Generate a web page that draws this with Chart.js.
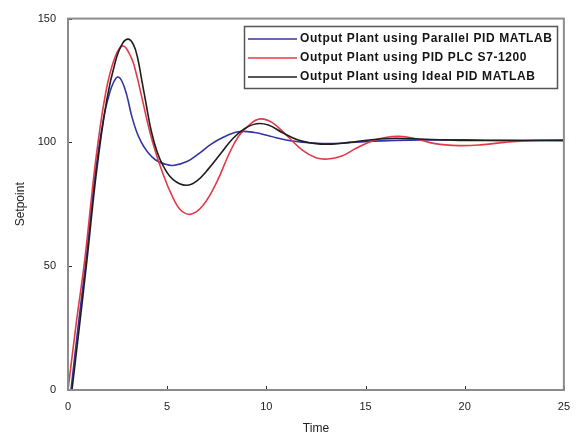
<!DOCTYPE html>
<html>
<head>
<meta charset="utf-8">
<script src="https://cdn.jsdelivr.net/npm/chart.js@4.4.1/dist/chart.umd.min.js"></script>
<style>
  html, body { margin: 0; padding: 0; background: #fff; }
</style>
</head>
<body>
<canvas id="myChart" width="580" height="436"></canvas>
<script>
const seriesLabels = [
  'Output Plant using Parallel PID MATLAB',
  'Output Plant using PID PLC S7-1200',
  'Output Plant using Ideal PID MATLAB'
];
const seriesColors = ['#3434a4', '#e23a48', '#1e1e1e'];

// Parallel PID (MATLAB)
const parallelTime = [0.15, 0.5, 0.9, 1.4, 1.8, 2.1, 2.3, 2.5, 2.7, 2.95, 3.2, 3.45, 3.7, 3.95, 4.4, 4.9, 5.3, 6.0, 6.6, 7.2, 7.8, 8.6, 9.4, 10.2, 11, 12, 13, 14, 15, 16.5, 18, 20, 22, 25];
const parallelValues = [0, 25, 52, 89, 110, 120, 124.3, 126.4, 125, 119.5, 111, 104.5, 100, 96.8, 93, 91.2, 90.7, 92.3, 95.5, 99.2, 102, 104.3, 104, 102.5, 101, 100, 99.5, 99.8, 100.3, 100.8, 101, 101, 100.8, 100.8];

// PID PLC S7-1200
const plcTime = [0, 0.4, 0.85, 1.4, 1.9, 2.35, 2.77, 3.2, 3.45, 3.7, 4.2, 4.8, 5.3, 5.7, 6.2, 6.8, 7.5, 8.1, 8.6, 9.2, 9.7, 10.3, 11, 11.8, 12.5, 13.1, 13.8, 14.5, 15.3, 16, 16.7, 17.5, 18.5, 19.7, 20.8, 22, 23.5, 25];
const plcValues = [0, 26, 53, 93, 120, 134, 139, 134, 127.5, 119, 102, 87, 77.5, 72.5, 71, 74.5, 84, 95, 102.5, 107.5, 109.5, 108, 103, 97, 93.8, 93.3, 94.5, 97.5, 100.5, 102, 102.5, 101.5, 99.5, 98.7, 99, 100, 100.8, 100.8];

// Ideal PID (MATLAB)
const idealTime = [0.2, 0.55, 0.95, 1.45, 1.95, 2.4, 2.75, 3.05, 3.3, 3.5, 3.7, 3.95, 4.2, 4.5, 4.8, 5.3, 5.96, 6.5, 7.1, 7.7, 8.3, 8.9, 9.5, 10.1, 10.8, 11.6, 12.5, 13.3, 14.2, 15.2, 16.5, 18, 20, 25];
const idealValues = [0, 24, 52, 89, 117, 133, 140, 141.7, 139.5, 134.5, 126, 115, 104.5, 96, 90.5, 85, 82.7, 84.5, 89.5, 95.5, 101.5, 105.5, 107.5, 107, 104, 101, 99.5, 99.3, 100, 101, 101.7, 101.3, 100.8, 100.8];

const xTicks = [0, 5, 10, 15, 20, 25];
const yTicks = [0, 50, 100, 150];

const toPoints = (times, values) => times.map((t, i) => ({ x: t, y: values[i] }));

const frameAndLegend = {
  id: 'frameAndLegend',
  afterDatasetsDraw(chart) {
    const { ctx, chartArea: a, scales: { x, y } } = chart;
    ctx.save();

    // MATLAB style ticks pointing inward
    ctx.strokeStyle = '#333';
    ctx.lineWidth = 1;
    ctx.beginPath();
    xTicks.forEach((v) => {
      const px = Math.round(x.getPixelForValue(v)) + 0.5;
      ctx.moveTo(px, a.bottom);
      ctx.lineTo(px, a.bottom - 4);
    });
    yTicks.forEach((v) => {
      const py = Math.round(y.getPixelForValue(v)) + 0.5;
      ctx.moveTo(a.left, py);
      ctx.lineTo(a.left + 4, py);
    });
    ctx.stroke();

    // box around the axes
    ctx.strokeStyle = '#8c8c8c';
    ctx.lineWidth = 2;
    ctx.strokeRect(a.left, a.top, a.right - a.left, a.bottom - a.top);

    // legend box
    const lx = 244.5, ly = 26.5, lw = 313, lh = 62;
    ctx.fillStyle = '#fff';
    ctx.fillRect(lx, ly, lw, lh);
    ctx.strokeStyle = '#555';
    ctx.lineWidth = 1.5;
    ctx.strokeRect(lx, ly, lw, lh);

    ctx.font = 'bold 12px "Liberation Sans", Arial, sans-serif';
    ctx.letterSpacing = '0.6px';
    ctx.textBaseline = 'middle';
    chart.data.datasets.forEach((ds, i) => {
      const rowY = 39 + i * 19;
      ctx.strokeStyle = ds.borderColor;
      ctx.lineWidth = 1.5;
      ctx.beginPath();
      ctx.moveTo(248, rowY);
      ctx.lineTo(297, rowY);
      ctx.stroke();
      ctx.fillStyle = '#151515';
      ctx.fillText(ds.label, 300, rowY);
    });

    ctx.restore();
  }
};

const ctx = document.getElementById('myChart');
const chart = new Chart(ctx, {
  type: 'line',
  data: {
    datasets: [
      {
        label: seriesLabels[0],
        data: toPoints(parallelTime, parallelValues),
        borderColor: seriesColors[0],
        order: 2
      },
      {
        label: seriesLabels[1],
        data: toPoints(plcTime, plcValues),
        borderColor: seriesColors[1],
        order: 1
      },
      {
        label: seriesLabels[2],
        data: toPoints(idealTime, idealValues),
        borderColor: seriesColors[2],
        order: 0
      }
    ]
  },
  options: {
    responsive: false,
    animation: false,
    layout: { padding: { left: 0, right: 14, top: 15, bottom: 0 } },
    elements: {
      point: { radius: 0 },
      line: { borderWidth: 1.6, tension: 0.4, fill: false }
    },
    plugins: {
      legend: { display: false },
      tooltip: { enabled: false }
    },
    scales: {
      x: {
        type: 'linear',
        min: 0,
        max: 25,
        afterBuildTicks: (axis) => { axis.ticks = xTicks.map((v) => ({ value: v })); },
        afterFit: (axis) => { axis.height = 46; },
        grid: { display: false, drawTicks: false },
        border: { display: false },
        ticks: {
          padding: 10,
          maxRotation: 0,
          color: '#222',
          font: { family: 'Liberation Sans', size: 11 }
        },
        title: {
          display: true,
          text: 'Time',
          color: '#222',
          padding: { top: 4, bottom: 0 },
          font: { family: 'Liberation Sans', size: 12 }
        }
      },
      y: {
        min: 0,
        max: 150,
        afterBuildTicks: (axis) => { axis.ticks = yTicks.map((v) => ({ value: v })); },
        afterFit: (axis) => { axis.width = 68; },
        grid: { display: false, drawTicks: false },
        border: { display: false },
        ticks: {
          padding: 12,
          color: '#222',
          font: { family: 'Liberation Sans', size: 11 }
        },
        title: {
          display: true,
          text: 'Setpoint',
          color: '#222',
          padding: { top: 13, bottom: 0 },
          font: { family: 'Liberation Sans', size: 12 }
        }
      }
    }
  },
  plugins: [frameAndLegend]
});
</script>
</body>
</html>
